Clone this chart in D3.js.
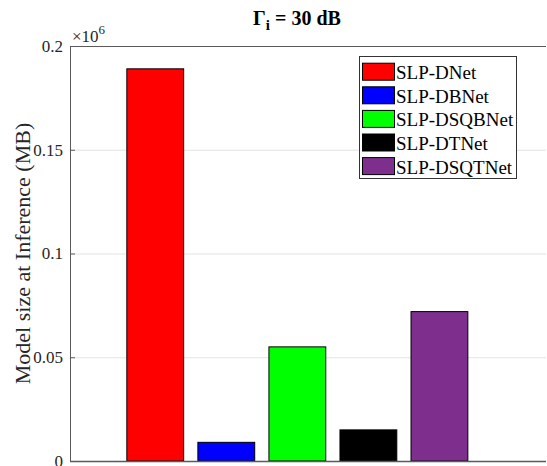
<!DOCTYPE html>
<html>
<head>
<meta charset="utf-8">
<script src="https://cdn.jsdelivr.net/npm/d3@7"></script>
<style>
  html, body { margin: 0; padding: 0; background: #fff; }
  svg { display: block; }
  svg text { font-family: "Liberation Serif", "Times New Roman", Times, "DejaVu Serif", serif !important; }
</style>
</head>
<body>
<svg id="chart" width="547" height="466"></svg>
<script>
// ---- data ----
const categories = ["SLP-DNet", "SLP-DBNet", "SLP-DSQBNet", "SLP-DTNet", "SLP-DSQTNet"];
const values = [189000, 9000, 55000, 15000, 72000];
const colors = ["#ff0000", "#0000ff", "#00ff00", "#000000", "#7e2f8e"];
const yTicks = [0, 50000, 100000, 150000, 200000];
const yTickLabels = ["0", "0.05", "0.1", "0.15", "0.2"];
const titleMain = "Γ";
const titleSub = "i";
const titleRest = " = 30 dB";
const yLabel = "Model size at Inference (MB)";

// ---- layout ----
const FONT = "Liberation Serif, Times New Roman, Times, serif";
const svg = d3.select("#chart");
const L = 70, R = 546, T = 46, B = 461;

const x = d3.scaleLinear().domain([-0.2, 6.5]).range([L, R]);
const y = d3.scaleLinear().domain([0, 200000]).range([B, T]);
const barW = 0.8;

// gridlines
svg.append("g").selectAll("line")
  .data(yTicks.filter(d => d > 0 && d < 200000))
  .join("line")
  .attr("x1", L).attr("x2", R)
  .attr("y1", d => y(d) + 0.5).attr("y2", d => y(d) + 0.5)
  .attr("stroke", "#e3e3e3").attr("stroke-width", 1);

// bars
svg.append("g").selectAll("rect")
  .data(values)
  .join("rect")
  .attr("x", (d, i) => x(i + 1 - barW / 2))
  .attr("width", (d, i) => x(i + 1 + barW / 2) - x(i + 1 - barW / 2))
  .attr("y", d => y(d))
  .attr("height", d => y(0) - y(d))
  .attr("fill", (d, i) => colors[i])
  .attr("stroke", "#000").attr("stroke-width", 1);

// axes box
const axisColor = "#5a5a5a";
const yAxis = d3.axisLeft(y).tickValues(yTicks).tickSizeInner(-5).tickSizeOuter(0)
  .tickPadding(7)
  .tickFormat((d, i) => yTickLabels[i]);
const gy = svg.append("g").attr("transform", `translate(${L},0)`).call(yAxis)
  .attr("font-family", FONT);
gy.select(".domain").attr("stroke", axisColor);
gy.selectAll(".tick line").attr("stroke", axisColor);
gy.selectAll(".tick text")
  .attr("font-family", FONT)
  .attr("font-size", 17).attr("fill", "#262626");

svg.append("line").attr("x1", L).attr("x2", R).attr("y1", T + 0.5).attr("y2", T + 0.5)
  .attr("stroke", axisColor);
svg.append("line").attr("x1", L).attr("x2", R).attr("y1", B + 0.5).attr("y2", B + 0.5)
  .attr("stroke", axisColor).attr("stroke-width", 1.5);

// exponent label
const ex = svg.append("text").attr("x", 72).attr("y", 42)
  .attr("font-family", FONT)
  .attr("font-size", 17).attr("fill", "#262626");
ex.append("tspan").text("×10");
ex.append("tspan").attr("dy", -8).attr("font-size", 13).text("6");

// title
const t = svg.append("text").attr("x", 297).attr("y", 25)
  .attr("font-family", FONT)
  .attr("text-anchor", "middle").attr("font-weight", "bold")
  .attr("font-size", 20).attr("fill", "#000");
t.append("tspan").text(titleMain);
t.append("tspan").attr("dy", 5).attr("font-size", 15).text(titleSub);
t.append("tspan").attr("dy", -5).text(titleRest);

// y label
svg.append("text")
  .attr("transform", `translate(30,${(T + B) / 2}) rotate(-90)`)
  .attr("font-family", FONT)
  .attr("text-anchor", "middle")
  .attr("font-size", 22).attr("fill", "#262626")
  .text(yLabel);

// legend
const lg = svg.append("g").attr("transform", "translate(359,56)");
lg.append("rect").attr("x", 0.5).attr("y", 0.5).attr("width", 157).attr("height", 122)
  .attr("fill", "#fff").attr("stroke", "#333").attr("stroke-width", 1);
const items = lg.selectAll("g.item").data(categories).join("g")
  .attr("class", "item")
  .attr("transform", (d, i) => `translate(0,${6.7 + i * 23.6})`);
items.append("rect").attr("x", 3.5).attr("y", 0.5).attr("width", 32).attr("height", 17)
  .attr("fill", (d, i) => colors[i]).attr("stroke", "#000").attr("stroke-width", 1);
items.append("text").attr("x", 37).attr("y", 16.5)
  .attr("font-family", FONT)
  .attr("font-size", 19).attr("fill", "#000").text(d => d);
</script>
</body>
</html>
